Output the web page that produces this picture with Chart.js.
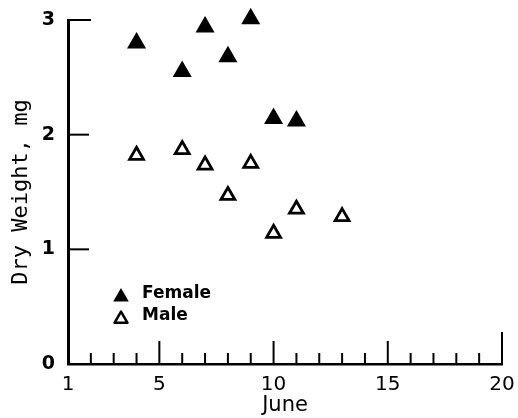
<!DOCTYPE html>
<html>
<head>
<meta charset="utf-8">
<script src="https://cdn.jsdelivr.net/npm/chart.js@4.4.0/dist/chart.umd.min.js"></script>
<style>
  html, body { margin: 0; padding: 0; background: #fff; }
  #wrap { width: 518px; height: 418px; position: relative; }
</style>
</head>
<body>
<div id="wrap"><canvas id="myChart"></canvas></div>
<script>
// 데이터 (June 날짜, 건조 중량 mg)
let femaleDay = [4, 6, 7, 8, 9, 10, 11];
let femaleWeight = [2.80, 2.55, 2.94, 2.68, 3.01, 2.14, 2.12];
let maleDay = [4, 6, 7, 8, 9, 10, 11, 13];
let maleWeight = [1.82, 1.87, 1.735, 1.47, 1.75, 1.14, 1.35, 1.285];

let xTickDays = [2, 3, 4, 5, 6, 7, 8, 9, 10, 11, 12, 13, 14, 15, 16, 17, 18, 19, 20];
let xLabelDays = [1, 5, 10, 15, 20];
let yTicks = [0, 1, 2, 3];
let legendNames = ['Female', 'Male'];

function toPoints(xs, ys) {
    return xs.map((d, i) => ({ x: d, y: ys[i] }));
}

// 축 안쪽으로 그리는 눈금 + 범례
const axisMarks = {
    id: 'axisMarks',
    afterDraw(chart) {
        const ctx = chart.ctx;
        const x = chart.scales.x, y = chart.scales.y;
        const x0 = x.getPixelForValue(1);
        const y0 = y.getPixelForValue(0);
        ctx.save();
        ctx.strokeStyle = '#000';
        ctx.lineWidth = 2;
        for (const d of xTickDays) {
            let len = d === 20 ? 32 : (d % 5 === 0 ? 23 : 11);
            let px = x.getPixelForValue(d);
            ctx.beginPath();
            ctx.moveTo(px, y0);
            ctx.lineTo(px, y0 - len);
            ctx.stroke();
        }
        for (const v of yTicks) {
            if (v === 0) continue;
            let py = y.getPixelForValue(v);
            ctx.beginPath();
            ctx.moveTo(x0, py);
            ctx.lineTo(x0 + (v === 3 ? 23 : 21), py);
            ctx.stroke();
        }

        // 범례
        const lx = 121, rows = [297, 319];
        ctx.fillStyle = '#000';
        ctx.font = 'bold 17px "DejaVu Sans"';
        ctx.textBaseline = 'middle';
        ctx.lineJoin = 'round';
        rows.forEach((ly, i) => {
            let r = i === 0 ? 9 : 7.5;
            ctx.beginPath();
            ctx.moveTo(lx, ly - r);
            ctx.lineTo(lx + r * 0.866, ly + r / 2);
            ctx.lineTo(lx - r * 0.866, ly + r / 2);
            ctx.closePath();
            if (i === 0) {
                ctx.fill();
            } else {
                ctx.lineWidth = 2.5;
                ctx.stroke();
            }
            ctx.fillText(legendNames[i], 142, ly - 3);
        });
        ctx.restore();
    }
};

let ChartInst = new Chart(document.getElementById('myChart').getContext('2d'), {
    type: 'scatter',
    data: {
        datasets: [
            {
                label: legendNames[0],
                data: toPoints(femaleDay, femaleWeight),
                pointStyle: 'triangle',
                pointRadius: 9.5,
                backgroundColor: '#000',
                borderColor: '#000',
                borderWidth: 1.5,
                clip: false
            },
            {
                label: legendNames[1],
                data: toPoints(maleDay, maleWeight),
                pointStyle: 'triangle',
                pointRadius: 8,
                backgroundColor: 'rgba(0,0,0,0)',
                borderColor: '#000',
                borderWidth: 2.8,
                clip: false
            }
        ]
    },
    options: {
        responsive: true,
        maintainAspectRatio: false,
        animation: false,
        layout: { padding: { top: 20, right: 16, left: 0, bottom: 0 } },
        plugins: {
            legend: { display: false },
            tooltip: { enabled: false }
        },
        scales: {
            x: {
                type: 'linear',
                min: 1,
                max: 20,
                afterFit: (s) => { s.height = 54; },
                afterBuildTicks: (s) => { s.ticks = xLabelDays.map(v => ({ value: v })); },
                grid: { display: false },
                border: { display: true, color: '#000', width: 2.5 },
                ticks: {
                    color: '#000',
                    padding: 1,
                    maxRotation: 0,
                    font: { family: 'DejaVu Sans', size: 20 }
                },
                title: {
                    display: true,
                    text: 'June',
                    color: '#000',
                    padding: { top: 0, bottom: 0 },
                    font: { family: 'DejaVu Sans', size: 21 }
                }
            },
            y: {
                type: 'linear',
                min: 0,
                max: 3,
                afterFit: (s) => { s.width = 68; },
                afterBuildTicks: (s) => { s.ticks = yTicks.map(v => ({ value: v })); },
                grid: { display: false },
                border: { display: true, color: '#000', width: 3 },
                ticks: {
                    color: '#000',
                    padding: 5,
                    font: { family: 'DejaVu Sans', size: 19, weight: 'bold' }
                },
                title: {
                    display: true,
                    text: 'Dry Weight, mg',
                    color: '#000',
                    padding: { top: 8, bottom: 0 },
                    font: { family: 'DejaVu Sans Mono', size: 22 }
                }
            }
        }
    },
    plugins: [axisMarks]
});
</script>
</body>
</html>
